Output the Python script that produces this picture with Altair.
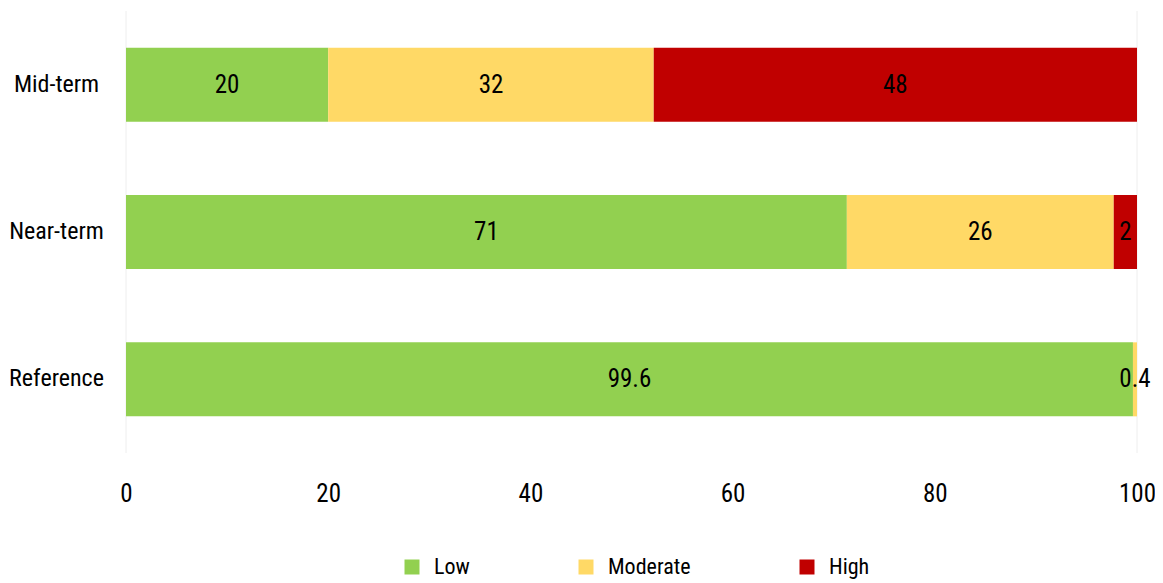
import altair as alt
import pandas as pd

categories = ["Mid-term", "Near-term", "Reference"]
levels = ["Low", "Moderate", "High"]
colors = ["#92D050", "#FFD966", "#C00000"]

low_values = [20.0, 71.3, 99.6]
moderate_values = [32.2, 26.4, 0.4]
high_values = [47.8, 2.3, 0.0]

low_labels = ["20", "71", "99.6"]
moderate_labels = ["32", "26", "0.4"]
high_labels = ["48", "2", ""]

x_ticks = [0, 20, 40, 60, 80, 100]
frame_lines = [0, 100]

rows = []
series = [(low_values, low_labels), (moderate_values, moderate_labels), (high_values, high_labels)]
for ci, cat in enumerate(categories):
    start = 0.0
    for li, lvl in enumerate(levels):
        v = series[li][0][ci]
        rows.append({"category": cat, "level": lvl, "order": li, "start": start,
                     "end": start + v, "mid": start + v / 2, "label": series[li][1][ci]})
        start += v
df = pd.DataFrame(rows)

FONT = "Roboto Condensed, Roboto"

y_enc = alt.Y("category:N", sort=categories, title=None,
              scale=alt.Scale(paddingInner=0.5, paddingOuter=0.25),
              axis=alt.Axis(ticks=False, tickSize=0, domain=False, labelAlign="center",
                            labelPadding=70, labelFontSize=24, labelColor="#000000",
                            labelFont=FONT))
x_scale = alt.Scale(domain=[0, 100], nice=False)

grid = alt.Chart(pd.DataFrame({"v": frame_lines})).mark_rule(color="#eeeeee", strokeWidth=1).encode(
    x=alt.X("v:Q", scale=x_scale)
)

bars = alt.Chart(df).mark_bar(size=74).encode(
    y=y_enc,
    x=alt.X("start:Q", scale=x_scale, title=None,
            axis=alt.Axis(values=x_ticks, grid=False, ticks=False, domain=False,
                          labelFlush=False, labelOverlap=False,
                          labelPadding=28, labelFontSize=25, labelColor="#000000",
                          labelFont=FONT)),
    x2="end:Q",
    color=alt.Color("level:N", sort=levels,
                    scale=alt.Scale(domain=levels, range=colors),
                    legend=alt.Legend(title=None, orient="none", direction="horizontal",
                                      legendX=275, legendY=545, symbolType="square",
                                      symbolSize=225, symbolStrokeWidth=0, labelFontSize=22,
                                      labelFont=FONT, labelColor="#000000", labelOffset=11,
                                      columnPadding=105)),
    order=alt.Order("order:Q"),
)

texts = alt.Chart(df).mark_text(fontSize=25, font=FONT, color="#000000").encode(
    y=alt.Y("category:N", sort=categories),
    x=alt.X("mid:Q", scale=x_scale),
    text="label:N",
)

chart = alt.layer(grid, bars, texts).properties(
    width=1011, height=442,
    autosize=alt.AutoSizeParams(type="none"),
    padding={"left": 118, "top": 3, "right": 18, "bottom": 129},
).configure_view(stroke=None)

chart.save("out.html", embed_options={"renderer": "svg", "actions": False})
